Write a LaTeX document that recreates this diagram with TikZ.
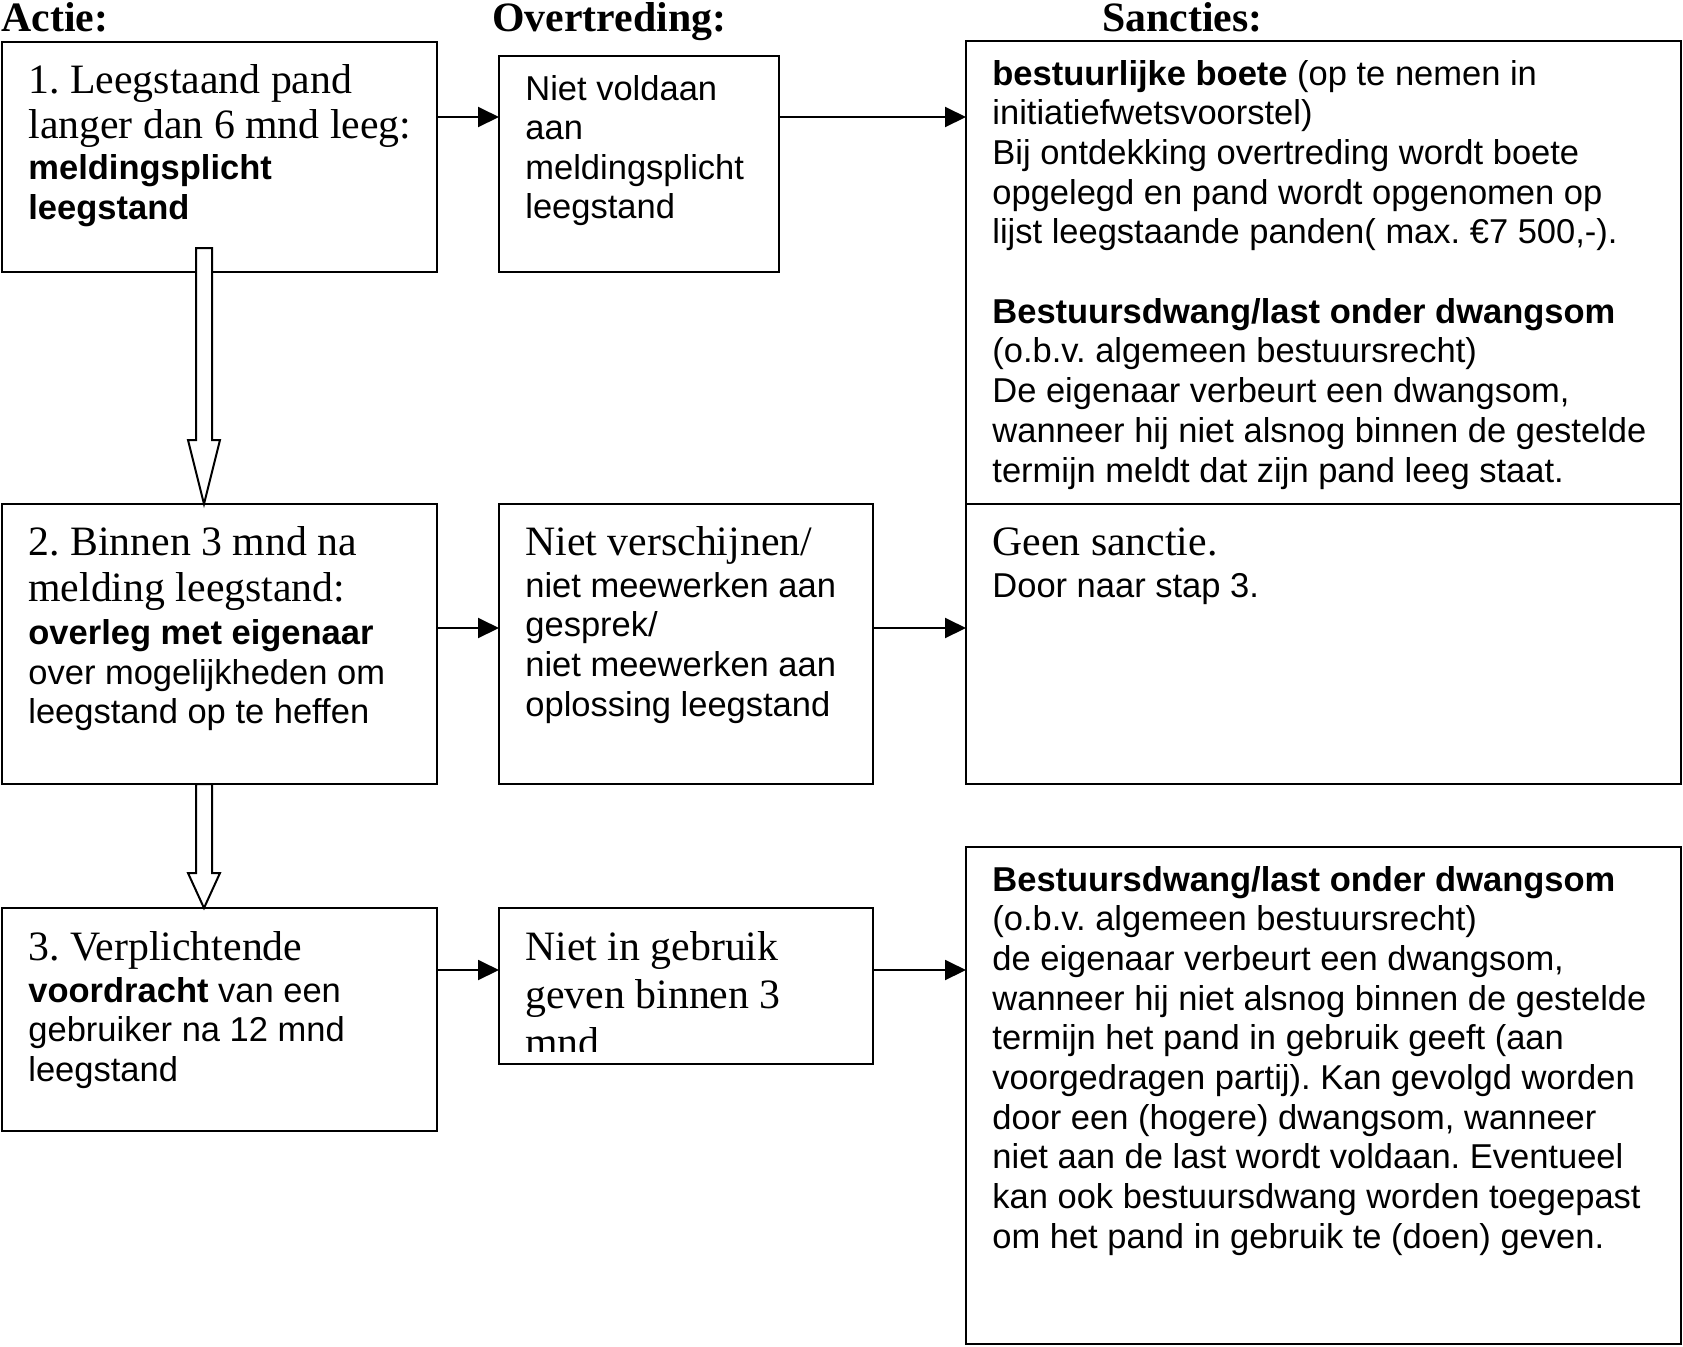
\documentclass[tikz,border=0pt]{standalone}
\usepackage{fontspec}
\setmainfont{Liberation Serif}
\newfontfamily\arialfont{Liberation Sans}
\usetikzlibrary{arrows.meta}
\frenchspacing
\begin{document}
\begin{tikzpicture}[x=0.5pt,y=-0.5pt,
  box/.style={draw=black,line width=1.2pt,inner sep=0pt,outer sep=0pt},
  tm/.style={font=\frenchspacing\fontsize{20.9pt}{23pt}\selectfont,inner sep=0pt,anchor=base west},
  tmb/.style={font=\frenchspacing\fontsize{20.9pt}{23pt}\selectfont\bfseries,inner sep=0pt,anchor=base west},
  ar/.style={font=\frenchspacing\arialfont\fontsize{17.25pt}{19.85pt}\selectfont,inner sep=0pt,anchor=base west},
  arb/.style={font=\frenchspacing\arialfont\fontsize{17.25pt}{19.85pt}\selectfont\bfseries,inner sep=0pt,anchor=base west},
  conn/.style={line width=1pt,-{Triangle[length=10.5pt,width=10pt]}},
  blk/.style={draw=black,fill=white,line width=1pt,line join=miter}]
\useasboundingbox (0,0) rectangle (1683,1346);

% headers
\node[tmb] (h1) at (1,31) {Actie:};
\node[tmb] (h2) at (492,31) {Overtreding:};
\node[tmb] (h3) at (1102,31) {Sancties:};

% boxes
\node[box,minimum width=217.5pt,minimum height=115pt] (b1) at (219.5,157) {};
\node[box,minimum width=140pt,minimum height=108pt] (o1) at (639,164) {};
\node[box,minimum width=357.5pt,minimum height=231.5pt] (s1) at (1323.5,272.5) {};
\node[box,minimum width=217.5pt,minimum height=140pt] (b2) at (219.5,644) {};
\node[box,minimum width=187pt,minimum height=140pt] (o2) at (686,644) {};
\node[box,minimum width=357.5pt,minimum height=140pt] (s2) at (1323.5,644) {};
\node[box,minimum width=217.5pt,minimum height=111.5pt] (b3) at (219.5,1019.5) {};
\node[box,minimum width=187pt,minimum height=78pt] (o3) at (686,986) {};
\node[box,minimum width=357.5pt,minimum height=248.5pt] (s3) at (1323.5,1095.5) {};

% connectors
\draw[conn] (b1.east |- 0,117) -- (o1.west |- 0,117);
\draw[conn] (o1.east |- 0,117) -- (s1.west |- 0,117);
\draw[conn] (b2.east |- 0,628) -- (o2.west |- 0,628);
\draw[conn] (o2.east |- 0,628) -- (s2.west |- 0,628);
\draw[conn] (b3.east |- 0,970) -- (o3.west |- 0,970);
\draw[conn] (o3.east |- 0,970) -- (s3.west |- 0,970);

% block arrows
\draw[blk] (196,248) -- (212,248) -- (212,440) -- (220,440) -- (b2.north -| 204,0) -- (188,440) -- (196,440) -- cycle;
\draw[blk] (b2.south -| 196,0) -- (b2.south -| 212,0) -- (212,873) -- (220,873) -- (b3.north -| 204,0) -- (188,873) -- (196,873) -- cycle;

% box 1
\node[tm] (t1a) at (28,93) {1. Leegstaand pand};
\node[tm] (t1b) at (28,138) {langer dan 6 mnd leeg:};
\node[arb] (t1c) at (28,179) {meldingsplicht};
\node[arb] (t1d) at (28,219) {leegstand};

% overtreding 1
\node[ar] (t2a) at (525,100) {Niet voldaan};
\node[ar] (t2b) at (525,139.5) {aan};
\node[ar] (t2c) at (525,179) {meldingsplicht};
\node[ar] (t2d) at (525,218.5) {leegstand};

% sancties 1
\node[ar] (t3a) at (992,85) {\textbf{bestuurlijke boete} (op te nemen in};
\node[ar] (t3b) at (992,124.7) {initiatiefwetsvoorstel)};
\node[ar] (t3c) at (992,164.4) {Bij ontdekking overtreding wordt boete};
\node[ar] (t3d) at (992,204.1) {opgelegd en pand wordt opgenomen op};
\node[ar] (t3e) at (992,243.8) {lijst leegstaande panden( max. €7 500,-).};
\node[arb] (t3f) at (992,323.2) {Bestuursdwang/last onder dwangsom};
\node[ar] (t3g) at (992,362.9) {(o.b.v. algemeen bestuursrecht)};
\node[ar] (t3h) at (992,402.6) {De eigenaar verbeurt een dwangsom,};
\node[ar] (t3i) at (992,442.3) {wanneer hij niet alsnog binnen de gestelde};
\node[ar] (t3j) at (992,482) {termijn meldt dat zijn pand leeg staat.};

% box 2
\node[tm] (t4a) at (28,555) {2. Binnen 3 mnd na};
\node[tm] (t4b) at (28,601) {melding leegstand:};
\node[arb] (t4c) at (28,644) {overleg met eigenaar};
\node[ar] (t4d) at (28,684) {over mogelijkheden om};
\node[ar] (t4e) at (28,723.5) {leegstand op te heffen};

% overtreding 2
\node[tm] (t5a) at (525,555) {Niet verschijnen/};
\node[ar] (t5b) at (525,597) {niet meewerken aan};
\node[ar] (t5c) at (525,636.7) {gesprek/};
\node[ar] (t5d) at (525,676.4) {niet meewerken aan};
\node[ar] (t5e) at (525,716) {oplossing leegstand};

% sancties 2
\node[tm] (t6a) at (992,555) {Geen sanctie.};
\node[ar] (t6b) at (992,597) {Door naar stap 3.};

% box 3
\node[tm] (t7a) at (28,960) {3. Verplichtende};
\node[ar] (t7b) at (28,1002) {\textbf{voordracht} van een};
\node[ar] (t7c) at (28,1041.7) {gebruiker na 12 mnd};
\node[ar] (t7d) at (28,1081.4) {leegstand};

% overtreding 3
\node[tm] (t8a) at (525,960) {Niet in gebruik};
\node[tm] (t8b) at (525,1008) {geven binnen 3};
\begin{scope}
  \clip (499,908) rectangle (873,1051);
  \node[tm] (t8c) at (525,1056) {mnd};
\end{scope}

% sancties 3
\node[arb] (t9a) at (992,891) {Bestuursdwang/last onder dwangsom};
\node[ar] (t9b) at (992,930.7) {(o.b.v. algemeen bestuursrecht)};
\node[ar] (t9c) at (992,970.4) {de eigenaar verbeurt een dwangsom,};
\node[ar] (t9d) at (992,1010.1) {wanneer hij niet alsnog binnen de gestelde};
\node[ar] (t9e) at (992,1049.8) {termijn het pand in gebruik geeft (aan};
\node[ar] (t9f) at (992,1089.5) {voorgedragen partij). Kan gevolgd worden};
\node[ar] (t9g) at (992,1129.2) {door een (hogere) dwangsom, wanneer};
\node[ar] (t9h) at (992,1168.9) {niet aan de last wordt voldaan. Eventueel};
\node[ar] (t9i) at (992,1208.6) {kan ook bestuursdwang worden toegepast};
\node[ar] (t9j) at (992,1248.3) {om het pand in gebruik te (doen) geven.};
\end{tikzpicture}
\end{document}
